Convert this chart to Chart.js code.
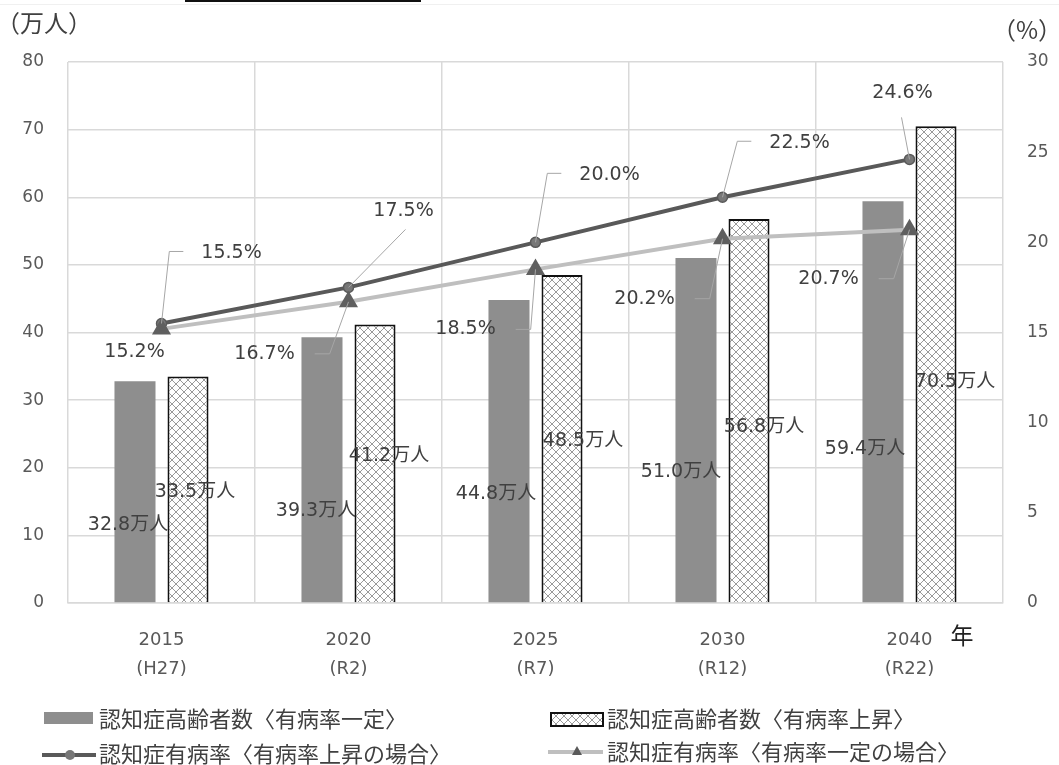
<!DOCTYPE html>
<html lang="ja">
<head>
<meta charset="utf-8">
<title>認知症高齢者数と有病率の将来推計</title>
<script src="https://cdn.jsdelivr.net/npm/chart.js"></script>
<style>
  body { margin: 0; background: #fff; }
  canvas { display: block; }
</style>
</head>
<body>
<canvas id="myChart" width="1059" height="765"></canvas>
<script>
'use strict'
// categories (year + era name, shown on two lines)
let years = ['2015', '2020', '2025', '2030', '2040'];
let eras = ['(H27)', '(R2)', '(R7)', '(R12)', '(R22)'];
// 認知症高齢者数 (万人)
let patientsFixed = [32.8, 39.3, 44.8, 51.0, 59.4];
let patientsRising = [33.5, 41.2, 48.5, 56.8, 70.5];
// 認知症有病率 (%)
let rateRising = [15.5, 17.5, 20.0, 22.5, 24.6];
let rateFixed = [15.2, 16.7, 18.5, 20.2, 20.7];
// axis ranges
let leftMax = 80, leftStep = 10;
let rightMax = 30, rightStep = 5;

let seriesNames = [
    '認知症高齢者数〈有病率一定〉',
    '認知症高齢者数〈有病率上昇〉',
    '認知症有病率〈有病率上昇の場合〉',
    '認知症有病率〈有病率一定の場合〉'
];

const textGray = '#595959';
const labelGray = '#404040';
const gridGray = '#d9d9d9';
const latinFont = '"DejaVu Sans", "Noto Sans CJK JP", sans-serif';
const jpFont = '"Noto Sans CJK JP", sans-serif';

// crosshatch fill for the "rising" bars
function makeHatch() {
    let c = document.createElement('canvas');
    c.width = 8;
    c.height = 8;
    let g = c.getContext('2d');
    g.fillStyle = '#fff';
    g.fillRect(0, 0, 8, 8);
    g.strokeStyle = '#9a9a9a';
    g.lineWidth = 1;
    g.beginPath();
    g.moveTo(0, 0); g.lineTo(8, 8);
    g.moveTo(8, 0); g.lineTo(0, 8);
    g.stroke();
    return g.createPattern(c, 'repeat');
}
let hatch = makeHatch();

// where each value label sits, measured from its own mark (px) - excel style callouts
let fixedBarSpots = [[-7, 144], [-6, 174], [-13, 194], [-15, 214], [-18, 248]];
let risingBarSpots = [[7, 116], [14, 132], [21, 166], [15, 208], [19, 256]];
let risingRateSpots = [[70, -70], [55, -76], [74, -67], [77, -54], [-7, -66]];
let fixedRateSpots = [[-27, 23], [-84, 52], [-70, 60], [-78, 60], [-81, 49]];
// leader lines: 'L' = elbow left of text, 'R' = elbow right of text, [dx,dy] = straight from there to the point
let risingRateLeaders = ['L', [57, -58], 'L', 'L', [-8, -42]];
let fixedRateLeaders = [null, 'R', 'R', 'R', 'R'];

const valueLabels = {
    id: 'valueLabels',
    afterDatasetsDraw(chart) {
        let ctx = chart.ctx;
        ctx.save();
        ctx.font = '19px ' + latinFont;
        ctx.textAlign = 'center';
        ctx.textBaseline = 'middle';
        chart.data.datasets.forEach((ds, di) => {
            let meta = chart.getDatasetMeta(di);
            meta.data.forEach((el, i) => {
                let v = ds.data[i];
                let text = v.toFixed(1) + ds.unit;
                let tx = el.x + ds.spots[i][0];
                let ty = el.y + ds.spots[i][1];
                let w = ctx.measureText(text).width;
                let leader = ds.leaders ? ds.leaders[i] : null;
                ctx.strokeStyle = '#a6a6a6';
                ctx.lineWidth = 1;
                if (leader === 'L') {
                    let left = tx - w / 2;
                    ctx.beginPath();
                    ctx.moveTo(left - 18, ty - 2);
                    ctx.lineTo(left - 32, ty - 2);
                    ctx.lineTo(el.x, el.y);
                    ctx.stroke();
                } else if (leader === 'R') {
                    let right = tx + w / 2;
                    ctx.beginPath();
                    ctx.moveTo(right + 20, ty);
                    ctx.lineTo(right + 35, ty);
                    ctx.lineTo(el.x, el.y);
                    ctx.stroke();
                } else if (leader) {
                    ctx.beginPath();
                    ctx.moveTo(el.x + leader[0], el.y + leader[1]);
                    ctx.lineTo(el.x, el.y);
                    ctx.stroke();
                }
                ctx.fillStyle = labelGray;
                ctx.fillText(text, tx, ty);
            });
        });
        ctx.restore();
    }
};

// titles, 年, legend and the little line on top of the picture
const decor = {
    id: 'decor',
    afterDraw(chart) {
        let ctx = chart.ctx;
        ctx.save();
        ctx.fillStyle = '#111';
        ctx.fillRect(185, 0, 236, 2);
        ctx.fillStyle = '#f0f0f0';
        ctx.fillRect(0, 4, 1059, 1);

        ctx.textBaseline = 'middle';
        ctx.fillStyle = labelGray;
        ctx.font = '24px ' + jpFont;
        ctx.textAlign = 'left';
        ctx.fillText('（万人）', -4, 23);
        ctx.fillText('（%）', 992, 30);

        ctx.fillStyle = '#222';
        ctx.font = '23px ' + jpFont;
        ctx.textAlign = 'center';
        ctx.fillText('年', 962, 635);

        // legend
        ctx.textAlign = 'left';
        ctx.font = '22px ' + jpFont;
        ctx.fillStyle = '#8e8e8e';
        ctx.fillRect(44, 712, 49, 12);
        ctx.fillStyle = hatch;
        ctx.fillRect(551, 713, 52, 13);
        ctx.strokeStyle = '#111';
        ctx.lineWidth = 2;
        ctx.strokeRect(551, 713, 52, 13);

        ctx.lineWidth = 4;
        ctx.strokeStyle = '#595959';
        ctx.beginPath();
        ctx.moveTo(42, 755); ctx.lineTo(96, 755);
        ctx.stroke();
        ctx.fillStyle = '#777';
        ctx.beginPath();
        ctx.arc(70, 755, 5, 0, Math.PI * 2);
        ctx.fill();

        ctx.strokeStyle = '#bfbfbf';
        ctx.beginPath();
        ctx.moveTo(548, 752); ctx.lineTo(603, 752);
        ctx.stroke();
        ctx.fillStyle = '#595959';
        ctx.beginPath();
        ctx.moveTo(577, 746); ctx.lineTo(582, 755); ctx.lineTo(572, 755);
        ctx.closePath();
        ctx.fill();

        ctx.fillStyle = labelGray;
        ctx.fillText(seriesNames[0], 99, 719);
        ctx.fillText(seriesNames[1], 607, 719);
        ctx.fillText(seriesNames[2], 99, 754);
        ctx.fillText(seriesNames[3], 607, 752);
        ctx.restore();
    }
};

let ctx = document.getElementById('myChart').getContext('2d');
let myChart = new Chart(ctx, {
    type: 'bar',
    data: {
        labels: years.map((y, i) => [y, eras[i]]),
        datasets: [{
                label: seriesNames[0],
                data: patientsFixed,
                backgroundColor: '#8e8e8e',
                yAxisID: 'y',
                order: 3,
                unit: '万人',
                spots: fixedBarSpots
            },
            {
                label: seriesNames[1],
                data: patientsRising,
                backgroundColor: hatch,
                borderColor: '#111',
                borderWidth: 2,
                yAxisID: 'y',
                order: 3,
                unit: '万人',
                spots: risingBarSpots
            },
            {
                type: 'line',
                label: seriesNames[2],
                data: rateRising,
                yAxisID: 'y2',
                order: 2,
                borderColor: '#595959',
                borderWidth: 4,
                pointStyle: 'circle',
                pointRadius: 5,
                pointBackgroundColor: '#777',
                pointBorderColor: '#595959',
                pointBorderWidth: 1.5,
                unit: '%',
                spots: risingRateSpots,
                leaders: risingRateLeaders
            },
            {
                type: 'line',
                label: seriesNames[3],
                data: rateFixed,
                yAxisID: 'y2',
                order: 1,
                borderColor: '#bfbfbf',
                borderWidth: 4,
                pointStyle: 'triangle',
                pointRadius: 7,
                pointBackgroundColor: '#5f5f5f',
                pointBorderColor: '#5f5f5f',
                unit: '%',
                spots: fixedRateSpots,
                leaders: fixedRateLeaders
            }
        ]
    },
    options: {
        responsive: false,
        animation: false,
        devicePixelRatio: 1,
        categoryPercentage: 0.567,
        barPercentage: 0.774,
        layout: { padding: { top: 62, left: 0, right: 0, bottom: 0 } },
        plugins: {
            legend: { display: false },
            tooltip: { enabled: false }
        },
        scales: {
            x: {
                grid: { color: gridGray, lineWidth: 1.5, drawTicks: false },
                border: { color: gridGray, width: 1.5 },
                ticks: {
                    color: textGray,
                    font: { family: latinFont, size: 18, lineHeight: 1.65 },
                    padding: 22,
                    maxRotation: 0
                },
                afterFit(s) { s.height = 162; }
            },
            y: {
                position: 'left',
                min: 0,
                max: leftMax,
                ticks: {
                    stepSize: leftStep,
                    color: textGray,
                    font: { family: latinFont, size: 17 },
                    padding: 24
                },
                grid: { color: gridGray, lineWidth: 1.5, drawTicks: false },
                border: { display: false },
                afterFit(s) { s.width = 68; }
            },
            y2: {
                position: 'right',
                min: 0,
                max: rightMax,
                ticks: {
                    stepSize: rightStep,
                    color: textGray,
                    font: { family: latinFont, size: 17 },
                    padding: 24
                },
                grid: { drawOnChartArea: false, drawTicks: false },
                border: { display: false },
                afterFit(s) { s.width = 56; }
            }
        }
    },
    plugins: [valueLabels, decor]
});
</script>
</body>
</html>
